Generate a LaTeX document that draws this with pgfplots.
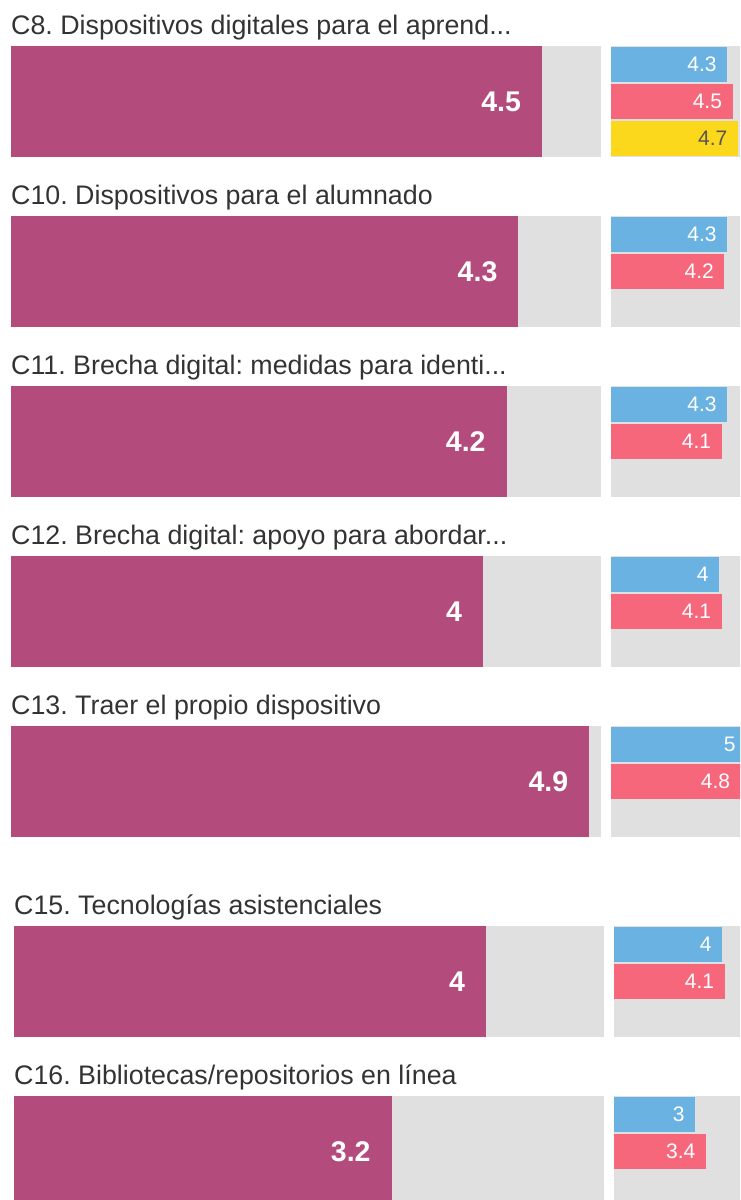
\documentclass[border=0pt]{standalone}
\usepackage{fontspec}
\setmainfont{Liberation Sans}
\usepackage{pgfplots}
\pgfplotsset{compat=1.18}
\pgfkeys{/pgf/number format/assume math mode=true}
\definecolor{mag}{HTML}{B34B7C}
\definecolor{bg}{HTML}{E0E0E0}
\definecolor{blu}{HTML}{6AB2E2}
\definecolor{pnk}{HTML}{F7677C}
\definecolor{yel}{HTML}{FBD81C}
\definecolor{ttl}{HTML}{333333}
\definecolor{dk}{HTML}{555555}
\pgfplotsset{
  panel/.style={scale only axis, height=111pt, xmin=0, xmax=5,
    axis line style={draw=none}, ticks=none,
    axis background/.style={fill=bg},
    xbar, bar shift=0pt, nodes near coords, point meta=x,
    anchor=south west},
  big/.style={panel, width=590pt, ymin=0.5, ymax=1.5, bar width=1,
    every node near coord/.append style={anchor=east, xshift=-17.5pt, text=white,
      font=\fontsize{28.5}{30}\selectfont\bfseries},
    title style={at={(axis description cs:0,1)}, anchor=base west, yshift=5.5pt,
      inner sep=0pt, font=\fontsize{26.8}{30}\selectfont\frenchspacing, text=ttl}},
  small/.style={panel, width=135pt, ymin=0.5, ymax=3.5, bar width=0.97,
    every node near coord/.append style={anchor=east, xshift=-7pt, text=white,
      font=\fontsize{21}{24}\selectfont}},
}
\begin{document}
\frenchspacing
\begin{tikzpicture}
\path[use as bounding box, clip] (0,0) rectangle (740pt,1200pt);
% C8
\begin{axis}[big, at={(11pt,1043pt)}, title={C8. Dispositivos digitales para el aprend...}]
\addplot[fill=mag, draw=none] coordinates {(4.5,1)};
\end{axis}
\begin{axis}[small, at={(611pt,1043pt)}]
\addplot[fill=blu, draw=none] coordinates {(4.3,3)};
\addplot[fill=pnk, draw=none] coordinates {(4.5,2)};
\addplot[fill=yel, draw=none, every node near coord/.append style={text=dk}] coordinates {(4.7,1)};
\end{axis}
% C10
\begin{axis}[big, at={(11pt,873pt)}, title={C10. Dispositivos para el alumnado}]
\addplot[fill=mag, draw=none] coordinates {(4.3,1)};
\end{axis}
\begin{axis}[small, at={(611pt,873pt)}]
\addplot[fill=blu, draw=none] coordinates {(4.3,3)};
\addplot[fill=pnk, draw=none] coordinates {(4.2,2)};
\end{axis}
% C11
\begin{axis}[big, at={(11pt,703pt)}, title={C11. Brecha digital: medidas para identi...}]
\addplot[fill=mag, draw=none] coordinates {(4.2,1)};
\end{axis}
\begin{axis}[small, at={(611pt,703pt)}]
\addplot[fill=blu, draw=none] coordinates {(4.3,3)};
\addplot[fill=pnk, draw=none] coordinates {(4.1,2)};
\end{axis}
% C12
\begin{axis}[big, at={(11pt,533pt)}, title={C12. Brecha digital: apoyo para abordar...}]
\addplot[fill=mag, draw=none] coordinates {(4.0,1)};
\end{axis}
\begin{axis}[small, at={(611pt,533pt)}]
\addplot[fill=blu, draw=none] coordinates {(4.0,3)};
\addplot[fill=pnk, draw=none] coordinates {(4.1,2)};
\end{axis}
% C13
\begin{axis}[big, at={(11pt,363pt)}, title={C13. Traer el propio dispositivo}]
\addplot[fill=mag, draw=none] coordinates {(4.9,1)};
\end{axis}
\begin{axis}[small, at={(611pt,363pt)}]
\addplot[fill=blu, draw=none] coordinates {(5.0,3)};
\addplot[fill=pnk, draw=none] coordinates {(4.8,2)};
\end{axis}
% C15
\begin{axis}[big, at={(14pt,163pt)}, title={C15. Tecnologías asistenciales}]
\addplot[fill=mag, draw=none] coordinates {(4.0,1)};
\end{axis}
\begin{axis}[small, at={(614pt,163pt)}]
\addplot[fill=blu, draw=none] coordinates {(4.0,3)};
\addplot[fill=pnk, draw=none] coordinates {(4.1,2)};
\end{axis}
% C16
\begin{axis}[big, at={(14pt,-7pt)}, title={C16. Bibliotecas/repositorios en línea}]
\addplot[fill=mag, draw=none] coordinates {(3.2,1)};
\end{axis}
\begin{axis}[small, at={(614pt,-7pt)}]
\addplot[fill=blu, draw=none] coordinates {(3.0,3)};
\addplot[fill=pnk, draw=none] coordinates {(3.4,2)};
\end{axis}
\end{tikzpicture}
\end{document}
